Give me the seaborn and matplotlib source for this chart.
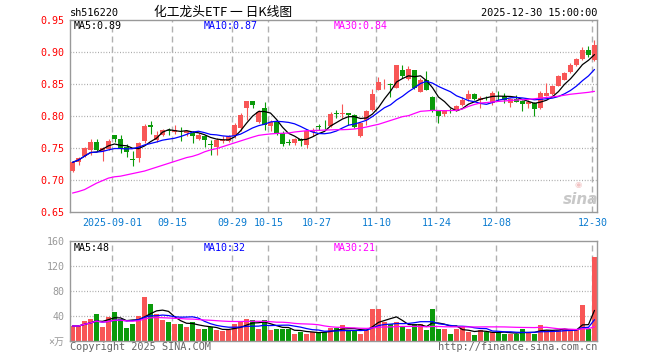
import numpy as np
import pandas as pd
import matplotlib
matplotlib.use("Agg")
import matplotlib.pyplot as plt
import seaborn as sns

# ---------------- data ----------------
start_date = "2025-08-21"
end_date = "2025-12-30"
holidays = ["2025-10-01", "2025-10-02", "2025-10-03",
            "2025-10-06", "2025-10-07", "2025-10-08"]

opens = [0.7135, 0.7276, 0.7370, 0.7463, 0.7598, 0.7458, 0.7484, 0.7698, 0.7646, 0.7515,
         0.7322, 0.7343, 0.7604, 0.7864, 0.7620, 0.7708, 0.7782, 0.7745, 0.7765, 0.7734,
         0.7734, 0.7646, 0.7693, 0.7557, 0.7516, 0.7604, 0.7604, 0.7693, 0.7812, 0.8125,
         0.8240, 0.7906, 0.8130, 0.7849, 0.7916, 0.7734, 0.7595, 0.7573, 0.7641, 0.7552,
         0.7745, 0.7843, 0.7833, 0.7849, 0.8041, 0.8031, 0.8052, 0.8020, 0.7682, 0.7942,
         0.8088, 0.8411, 0.8495, 0.8495, 0.8440, 0.8724, 0.8580, 0.8724, 0.8380, 0.8568,
         0.8295, 0.8083, 0.8036, 0.8088, 0.8083, 0.8166, 0.8265, 0.8349, 0.8255, 0.8286,
         0.8203, 0.8380, 0.8307, 0.8203, 0.8265, 0.8239, 0.8192, 0.8203, 0.8125, 0.8318,
         0.8349, 0.8474, 0.8568, 0.8687, 0.8802, 0.8891, 0.9036, 0.8880]
highs = [0.7290, 0.7360, 0.7515, 0.7645, 0.7645, 0.7510, 0.7646, 0.7710, 0.7700, 0.7562,
         0.7447, 0.7593, 0.7880, 0.7927, 0.7770, 0.7797, 0.7817, 0.7860, 0.7828, 0.7775,
         0.7760, 0.7734, 0.7710, 0.7620, 0.7656, 0.7693, 0.7708, 0.7890, 0.8047, 0.8240,
         0.8240, 0.8088, 0.8220, 0.7942, 0.7932, 0.7760, 0.7646, 0.7656, 0.7651, 0.7770,
         0.7812, 0.7880, 0.7932, 0.8057, 0.8099, 0.8192, 0.8052, 0.8036, 0.7901, 0.8088,
         0.8422, 0.8609, 0.8578, 0.8520, 0.8800, 0.8800, 0.8776, 0.8724, 0.8598, 0.8708,
         0.8307, 0.8088, 0.8099, 0.8120, 0.8177, 0.8290, 0.8411, 0.8359, 0.8307, 0.8307,
         0.8385, 0.8385, 0.8359, 0.8281, 0.8333, 0.8245, 0.8255, 0.8213, 0.8385, 0.8515,
         0.8479, 0.8646, 0.8688, 0.8828, 0.8906, 0.9078, 0.9089, 0.9190]
lows = [0.7120, 0.7240, 0.7360, 0.7395, 0.7447, 0.7290, 0.7473, 0.7600, 0.7420, 0.7359,
        0.7213, 0.7276, 0.7578, 0.7724, 0.7600, 0.7682, 0.7700, 0.7720, 0.7604, 0.7682,
        0.7578, 0.7630, 0.7516, 0.7396, 0.7396, 0.7578, 0.7590, 0.7660, 0.7760, 0.7943,
        0.8125, 0.7890, 0.7780, 0.7760, 0.7700, 0.7526, 0.7547, 0.7552, 0.7526, 0.7500,
        0.7682, 0.7776, 0.7790, 0.7828, 0.7968, 0.7968, 0.7864, 0.7812, 0.7672, 0.7864,
        0.8073, 0.8401, 0.8422, 0.8290, 0.8430, 0.8598, 0.8568, 0.8422, 0.8375, 0.8401,
        0.8057, 0.7890, 0.8005, 0.8047, 0.8073, 0.8151, 0.8229, 0.8245, 0.8125, 0.8255,
        0.8177, 0.8245, 0.8203, 0.8135, 0.8213, 0.8083, 0.8125, 0.8005, 0.8109, 0.8307,
        0.8333, 0.8463, 0.8557, 0.8672, 0.8786, 0.8880, 0.8922, 0.8854]
closes = [0.7276, 0.7348, 0.7494, 0.7598, 0.7463, 0.7500, 0.7614, 0.7640, 0.7490, 0.7432,
          0.7312, 0.7578, 0.7849, 0.7823, 0.7700, 0.7786, 0.7772, 0.7780, 0.7758, 0.7760,
          0.7682, 0.7708, 0.7630, 0.7547, 0.7630, 0.7630, 0.7693, 0.7865, 0.8021, 0.8229,
          0.8177, 0.8063, 0.7860, 0.7900, 0.7734, 0.7567, 0.7585, 0.7646, 0.7614, 0.7760,
          0.7765, 0.7833, 0.7823, 0.8036, 0.8031, 0.8041, 0.8015, 0.7828, 0.7890, 0.8073,
          0.8349, 0.8526, 0.8505, 0.8484, 0.8792, 0.8620, 0.8736, 0.8437, 0.8555, 0.8411,
          0.8073, 0.8005, 0.8083, 0.8078, 0.8161, 0.8255, 0.8349, 0.8265, 0.8281, 0.8276,
          0.8359, 0.8370, 0.8255, 0.8265, 0.8213, 0.8187, 0.8218, 0.8109, 0.8359, 0.8359,
          0.8463, 0.8620, 0.8672, 0.8792, 0.8896, 0.9036, 0.8958, 0.9115]
volumes = [24, 24, 32, 36, 43, 22, 38, 47, 35, 21, 27, 40, 70, 60, 44, 33, 30, 28, 28, 23,
           31, 19, 19, 22, 17, 16, 18, 27, 31, 35, 33, 20, 33, 17, 20, 19, 19, 11, 15, 12,
           15, 14, 14, 21, 21, 25, 17, 16, 12, 17, 52, 52, 31, 27, 31, 23, 20, 28, 28, 17,
           52, 19, 19, 12, 19, 22, 14, 9, 17, 15, 14, 14, 11, 12, 12, 19, 14, 12, 25, 17,
           17, 17, 20, 17, 17, 58, 19, 134]
# 30-day average of the price as drawn (it needs history before the window)
ma30_price = [0.6796, 0.682, 0.685, 0.690, 0.695, 0.699, 0.703, 0.705, 0.706, 0.708,
              0.710, 0.712, 0.714, 0.717, 0.720, 0.723, 0.726, 0.729, 0.732, 0.735,
              0.737, 0.740, 0.744, 0.747, 0.749, 0.752, 0.755, 0.758, 0.761, 0.764,
              0.767, 0.7697, 0.771, 0.772, 0.7727, 0.773, 0.7734, 0.775, 0.776, 0.777,
              0.7773, 0.7776, 0.778, 0.7783, 0.7786, 0.7786, 0.779, 0.7797, 0.781, 0.7828,
              0.785, 0.787, 0.790, 0.793, 0.796, 0.799, 0.8005, 0.804, 0.8073, 0.808,
              0.8088, 0.8085, 0.8083, 0.8085, 0.8088, 0.811, 0.815, 0.818, 0.8203, 0.821,
              0.822, 0.8228, 0.8235, 0.8243, 0.825, 0.8255, 0.826, 0.827, 0.828, 0.829,
              0.830, 0.831, 0.8325, 0.834, 0.835, 0.836, 0.837, 0.8385]

tick_dates = ["2025-09-01", "2025-09-15", "2025-09-29", "2025-10-15", "2025-10-27",
              "2025-11-10", "2025-11-24", "2025-12-08", "2025-12-30"]
tick_labels = ["2025-09-01", "09-15", "09-29", "10-15", "10-27",
               "11-10", "11-24", "12-08", "12-30"]
price_ticks = [0.65, 0.70, 0.75, 0.80, 0.85, 0.90, 0.95]
price_tick_labels = ["0.65", "0.70", "0.75", "0.80", "0.85", "0.90", "0.95"]
vol_ticks = [0, 40, 80, 120, 160]
vol_tick_labels = ["×万", "40", "80", "120", "160"]

title_text = "化工龙头ETF 一 日K线图"
code_text = "sh516220"
time_text = "2025-12-30 15:00:00"
price_ma_labels = ["MA5:0.89", "MA10:0.87", "MA30:0.84"]
vol_ma_labels = ["MA5:48", "MA10:32", "MA30:21"]

# ---------------- frame ----------------
days = pd.bdate_range(start_date, end_date)
days = days[~days.isin(pd.to_datetime(holidays))]
df = pd.DataFrame({"date": days, "open": opens, "high": highs, "low": lows,
                   "close": closes, "vol": volumes, "ma30": ma30_price})
df["idx"] = np.arange(len(df))
df["ma5"] = df["close"].rolling(5, min_periods=1).mean()
df["ma10"] = df["close"].rolling(10, min_periods=1).mean()
df["vma5"] = df["vol"].rolling(5, min_periods=1).mean()
df["vma10"] = df["vol"].rolling(10, min_periods=1).mean()
df["vma30"] = df["vol"].rolling(30, min_periods=1).mean()
tick_idx = [int(np.where(df["date"] == pd.Timestamp(d))[0][0]) for d in tick_dates]

RED = "#f85656"
GREEN = "#0a9a0a"
colors = [RED if c >= o else GREEN for o, c in zip(df["open"], df["close"])]

sns.set_theme(style="white")
plt.rcParams["font.family"] = ["DejaVu Sans Mono", "Noto Sans CJK SC"]

W, H = 660, 360
fig = plt.figure(figsize=(6.6, 3.6), dpi=100)
fig.patch.set_facecolor("white")

def fx(px):
    return px / W

def fy(py):
    return 1 - py / H

ax = fig.add_axes([fx(70), fy(212), fx(597) - fx(70), fy(20) - fy(212)])
axv = fig.add_axes([fx(70), fy(341), fx(597) - fx(70), fy(241) - fy(341)])

xl = (-0.42, len(df) - 1 + 0.42)
grid_col = "#aaaaaa"
for a in (ax, axv):
    a.set_facecolor("white")
    a.set_xlim(*xl)
    for s in a.spines.values():
        s.set_color("#999999")
        s.set_linewidth(1.0)
    for t in tick_idx:
        a.axvline(t - 0.35, color="#b0b0b0", lw=1.0, dashes=(4.3, 2.9), zorder=0)
    a.tick_params(axis="both", length=0)
    a.grid(False)

# price grid
for p in price_ticks[1:-1]:
    ax.axhline(p, color=grid_col, lw=0.9, dashes=(0.8, 1.4), zorder=0)
for v in vol_ticks[1:-1]:
    axv.axhline(v, color=grid_col, lw=0.9, dashes=(0.8, 1.4), zorder=0)

# candles
body_lo = np.minimum(df["open"], df["close"])
body_h = np.maximum(np.abs(df["close"] - df["open"]), 0.0012)
ax.vlines(df["idx"], df["low"], df["high"], colors=colors, lw=0.8, zorder=2)
ax.bar(df["idx"], body_h, bottom=body_lo, width=0.83, color=colors, linewidth=0, zorder=3)

sns.lineplot(data=df, x="idx", y="ma5", ax=ax, color="black", lw=0.9, zorder=4)
sns.lineplot(data=df, x="idx", y="ma10", ax=ax, color="#0000ff", lw=0.9, zorder=4)
sns.lineplot(data=df, x="idx", y="ma30", ax=ax, color="#ff00ff", lw=0.9, zorder=4)

ax.set_ylim(0.65, 0.95)
ax.set_yticks(price_ticks)
ax.set_yticklabels(price_tick_labels, color="#ff0000", fontsize=7.2)
ax.set_xticks([t - 0.35 for t in tick_idx])
ax.set_xticklabels(tick_labels, color="#0a7bd0", fontsize=7.2)
ax.tick_params(axis="y", pad=4)
ax.tick_params(axis="x", pad=4)
ax.set_xlabel("")
ax.set_ylabel("")

# volume
axv.bar(df["idx"], df["vol"], width=0.83, color=colors, linewidth=0, zorder=2)
sns.lineplot(data=df, x="idx", y="vma5", ax=axv, color="black", lw=0.9, zorder=4)
sns.lineplot(data=df, x="idx", y="vma10", ax=axv, color="#0000ff", lw=0.9, zorder=4)
sns.lineplot(data=df, x="idx", y="vma30", ax=axv, color="#ff00ff", lw=0.9, zorder=4)
axv.set_ylim(0, 160)
axv.set_yticks(vol_ticks)
axv.set_yticklabels(vol_tick_labels, color="#999999", fontsize=7.2)
axv.tick_params(axis="y", pad=4)
axv.set_xticks([])
axv.set_xlabel("")
axv.set_ylabel("")

# MA legends
ma_cols = ["black", "#0000ff", "#ff00ff"]
ma_x = [74, 204, 334]
for lab, col, xp in zip(price_ma_labels, ma_cols, ma_x):
    fig.text(fx(xp), fy(26), lab, color=col, fontsize=7.2, va="center", ha="left")
for lab, col, xp in zip(vol_ma_labels, ma_cols, ma_x):
    fig.text(fx(xp), fy(248), lab, color=col, fontsize=7.2, va="center", ha="left")

# header
fig.text(fx(70), fy(13), code_text, color="black", fontsize=7.4, va="center", ha="left")
fig.text(fx(223), fy(12.5), title_text, color="black", fontsize=9.2, va="center", ha="center",
         family=["Noto Sans CJK SC", "DejaVu Sans"])
fig.text(fx(597), fy(13), time_text, color="black", fontsize=7.4, va="center", ha="right")

# footer
fig.text(fx(70), fy(347), "Copyright 2025 SINA.COM", color="#666666", fontsize=7.4,
         va="center", ha="left")
fig.text(fx(597), fy(347), "http://finance.sina.com.cn", color="#666666", fontsize=7.4,
         va="center", ha="right")

# watermark
fig.text(fx(581), fy(199), "sina", color="#c8c8c8", fontsize=11, fontweight="bold",
         fontstyle="italic", va="center", ha="center", family="DejaVu Sans")
fig.text(fx(578), fy(184), "◉", color="#f2c4c4", fontsize=6, va="center", ha="center",
         family="DejaVu Sans")

fig.savefig("out.png", dpi=100, facecolor="white")
